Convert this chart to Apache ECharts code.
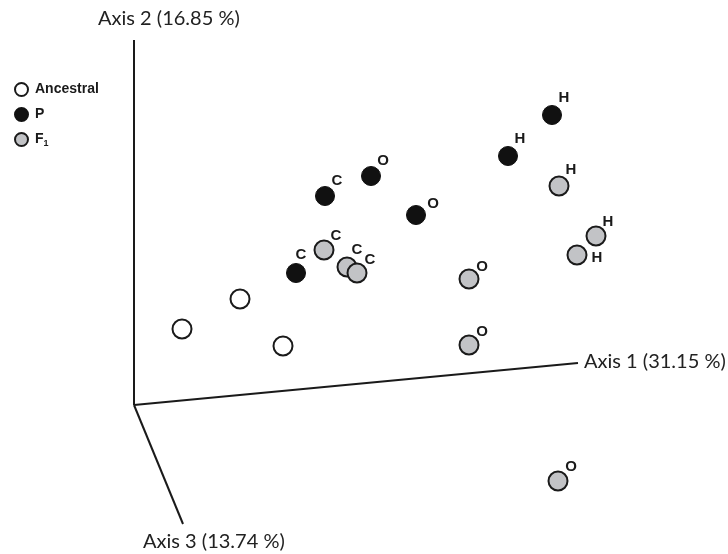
<!DOCTYPE html>
<html>
<head>
<meta charset="utf-8">
<script src="https://cdn.jsdelivr.net/npm/echarts@6/dist/echarts.min.js"></script>
<style>html,body{margin:0;padding:0;background:#fff}#c{width:728px;height:554px}</style>
</head>
<body>
<div id="c"></div>
<script>
// Projected ordination coordinates (origin = where the three axes meet)
const ancestralX = [48, 106, 149];
const ancestralY = [76, 106, 59];
const ancestralLab = ['', '', ''];

const pX = [191, 237, 282, 162, 374, 418];
const pY = [209, 229, 190, 132, 249, 290];
const pLab = ['C', 'O', 'O', 'C', 'H', 'H'];

const f1X = [190, 213, 223, 335, 335, 425, 462, 443, 424];
const f1Y = [155, 138, 132, 126, 60, 219, 169, 150, -76];
const f1Lab = ['C', 'C', 'C', 'O', 'O', 'H', 'H', 'H', 'O'];

// Axis end points in same projected space
const axisNames = ['Axis 1 (31.15 %)', 'Axis 2 (16.85 %)', 'Axis 3 (13.74 %)'];
const axisEndX = [444, 0, 49];
const axisEndY = [42, 365, -119];

// label offsets (screen px) per point, styling only
const pOff = [[12,-15],[12,-15],[17,-11],[5,-18],[12,-17],[12,-17]];
const f1Off = [[12,-14],[10,-17],[13,-13],[13,-12],[13,-13],[12,-16],[12,-14],[20,3],[13,-14]];

function pts(xs, ys, labs, offs) {
  return xs.map((x, i) => {
    const d = { value: [x, ys[i]], name: labs[i] };
    if (labs[i]) {
      d.label = { show: true, position: 'inside', offset: offs[i], formatter: labs[i] };
    }
    return d;
  });
}

const labelStyle = {
  color: '#1a1a1a', fontFamily: 'Liberation Sans', fontWeight: 'bold', fontSize: 15,
  align: 'center', verticalAlign: 'middle'
};

const axisSeries = axisNames.map((n, i) => ({
  type: 'line', silent: true, symbol: 'none', z: 1,
  lineStyle: { color: '#1a1a1a', width: 2 },
  data: [[0, 0], [axisEndX[i], axisEndY[i]]],
  legendHoverLink: false
}));

const chart = echarts.init(document.getElementById('c'), null, { renderer: 'canvas' });
const axisFont = { fontFamily: 'Lato', fontSize: 20, fill: '#222', verticalAlign: 'middle', align: 'left' };
chart.setOption({
  animation: false,
  backgroundColor: '#fff',
  grid: { left: 0, right: 0, top: 0, bottom: 0 },
  xAxis: { type: 'value', min: -134, max: 594, show: false },
  yAxis: { type: 'value', min: -149, max: 405, show: false },
  legend: {
    orient: 'vertical', left: 9, top: 77, itemWidth: 13, itemHeight: 13, itemGap: 10,
    icon: 'circle',
    data: ['Ancestral', 'P', 'F1'],
    formatter: n => n === 'F1' ? 'F{sub|1}' : n,
    textStyle: {
      fontFamily: 'Liberation Sans', fontWeight: 'bold', fontSize: 14, color: '#1a1a1a',
      padding: [0, 0, 0, 2],
      rich: { sub: { fontFamily: 'Liberation Sans', fontWeight: 'bold', fontSize: 9, padding: [8, 0, 0, 0], color: '#1a1a1a' } }
    },
    selectedMode: false
  },
  series: axisSeries.concat([
    {
      name: 'Ancestral', type: 'scatter', symbolSize: 19, z: 3,
      itemStyle: { color: '#ffffff', borderColor: '#1a1a1a', borderWidth: 2, opacity: 1 },
      label: labelStyle,
      data: pts(ancestralX, ancestralY, ancestralLab, [])
    },
    {
      name: 'P', type: 'scatter', symbolSize: 19, z: 3,
      itemStyle: { color: '#111111', borderColor: '#111111', borderWidth: 1, opacity: 1 },
      label: labelStyle,
      data: pts(pX, pY, pLab, pOff)
    },
    {
      name: 'F1', type: 'scatter', symbolSize: 19, z: 3,
      itemStyle: { color: '#c2c3c6', borderColor: '#1a1a1a', borderWidth: 2, opacity: 1 },
      label: labelStyle,
      data: pts(f1X, f1Y, f1Lab, f1Off)
    }
  ]),
  graphic: [
    { type: 'text', style: Object.assign({ text: axisNames[1], x: 98, y: 19 }, axisFont) },
    { type: 'text', style: Object.assign({ text: axisNames[0], x: 584, y: 362 }, axisFont) },
    { type: 'text', style: Object.assign({ text: axisNames[2], x: 143, y: 542 }, axisFont) }
  ]
});
</script>
</body>
</html>
